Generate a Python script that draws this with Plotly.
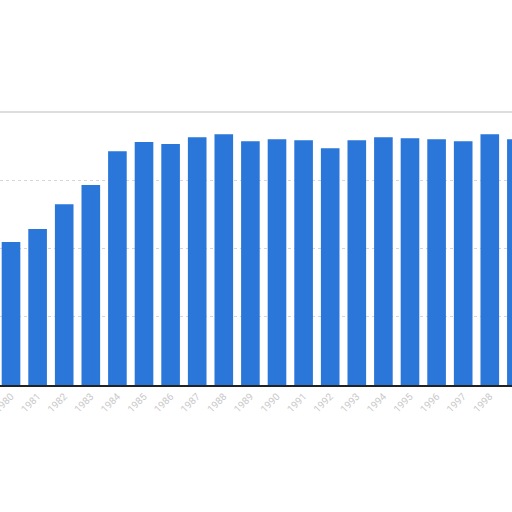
import plotly.graph_objects as go

years = [str(y) for y in range(1980, 2000)]
values = [41.9, 45.7, 53.0, 58.6, 68.5, 71.2, 70.6, 72.6, 73.5, 71.4,
          72.0, 71.7, 69.4, 71.7, 72.6, 72.3, 72.0, 71.4, 73.5, 72.0]

fig = go.Figure(go.Bar(x=years, y=values, marker=dict(color="#2a76d9", line=dict(width=0))))

fig.update_layout(
    width=512, height=512,
    margin=dict(l=0, r=0, t=112, b=127, autoexpand=False),
    paper_bgcolor="white", plot_bgcolor="white",
    bargap=0.3,
    showlegend=False,
    font=dict(family="Roboto", size=10, color="#b5b5b5"),
    shapes=[dict(type="line", xref="paper", yref="paper", x0=0, x1=1, y0=1, y1=1,
                 line=dict(color="#d2d2d2", width=1.5))],
)
fig.update_xaxes(
    type="category", range=[-0.414, 18.835], automargin=False,
    tickangle=-45, showgrid=False,
    showline=True, linecolor="#222", linewidth=1.5,
    ticks="", tickfont=dict(size=10, color="#c8c8c8"),
)
fig.update_yaxes(
    range=[0, 80], dtick=20, showticklabels=False, automargin=False,
    showgrid=True, gridcolor="#d6d6d6", griddash="dot", gridwidth=1,
    zeroline=False,
)

fig.write_html("out.html", config={"displayModeBar": False},
               post_script="document.body.style.margin='0';")
